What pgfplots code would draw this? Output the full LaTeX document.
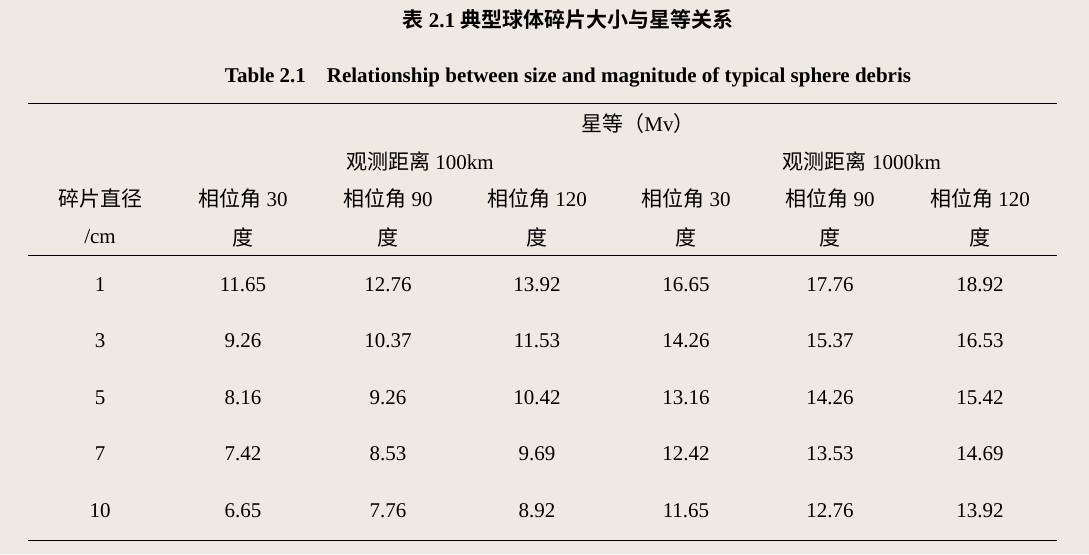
\documentclass[border=0pt]{standalone}
\usepackage{fontspec}
\setmainfont{Liberation Serif}
\newfontfamily\cjk[BoldFont={* Bold}]{Noto Sans CJK SC}
\usepackage{pgfplots}
\pgfplotsset{compat=1.18}
\definecolor{bg}{RGB}{238,233,226}
\begin{document}
\begin{tikzpicture}
\begin{axis}[scale only axis, width=1089pt, height=554pt, xmin=0, xmax=1089, ymin=0, ymax=554,
 y dir=reverse, axis lines=none, clip=false, font=\fontsize{21}{25}\selectfont]
\fill[bg] (axis cs:0,0) rectangle (axis cs:1089,554);
\node[font=\fontsize{21}{25}\selectfont\bfseries] at (axis cs:568,19) {{\cjk\bfseries 表} 2.1 {\cjk\bfseries 典型球体碎片大小与星等关系}};
\node[font=\fontsize{21}{25}\selectfont\bfseries] at (axis cs:568,77) {Table 2.1\quad Relationship between size and magnitude of typical sphere debris};
\draw[line width=1pt] (axis cs:28,103) -- (axis cs:1057,103);
\draw[line width=0.8pt] (axis cs:28,255) -- (axis cs:1057,255);
\draw[line width=1pt] (axis cs:28,540) -- (axis cs:1057,540);
\node at (axis cs:638,124) {{\cjk 星等（}Mv{\cjk ）}};
\node at (axis cs:420,161) {{\cjk 观测距离} 100km};
\node at (axis cs:862,161) {{\cjk 观测距离} 1000km};
\node at (axis cs:100,199) {\cjk 碎片直径};
\node at (axis cs:100,237) {/cm};
\node at (axis cs:243,199) {{\cjk 相位角} 30};
\node at (axis cs:388,199) {{\cjk 相位角} 90};
\node at (axis cs:537,199) {{\cjk 相位角} 120};
\node at (axis cs:686,199) {{\cjk 相位角} 30};
\node at (axis cs:830,199) {{\cjk 相位角} 90};
\node at (axis cs:980,199) {{\cjk 相位角} 120};
\node at (axis cs:243,237) {\cjk 度};
\node at (axis cs:388,237) {\cjk 度};
\node at (axis cs:537,237) {\cjk 度};
\node at (axis cs:686,237) {\cjk 度};
\node at (axis cs:830,237) {\cjk 度};
\node at (axis cs:980,237) {\cjk 度};
\addplot[only marks, mark=none, nodes near coords, point meta=explicit symbolic,
 every node near coord/.append style={font=\fontsize{21}{25}\selectfont, anchor=center}]
table[meta=l] {
x y l
100 285 1
243 285 11.65
388 285 12.76
537 285 13.92
686 285 16.65
830 285 17.76
980 285 18.92
100 341 3
243 341 9.26
388 341 10.37
537 341 11.53
686 341 14.26
830 341 15.37
980 341 16.53
100 398 5
243 398 8.16
388 398 9.26
537 398 10.42
686 398 13.16
830 398 14.26
980 398 15.42
100 454 7
243 454 7.42
388 454 8.53
537 454 9.69
686 454 12.42
830 454 13.53
980 454 14.69
100 511 10
243 511 6.65
388 511 7.76
537 511 8.92
686 511 11.65
830 511 12.76
980 511 13.92
};
\end{axis}
\end{tikzpicture}
\end{document}
